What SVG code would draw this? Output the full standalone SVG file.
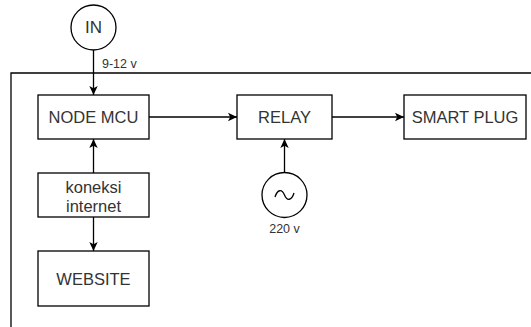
<svg xmlns="http://www.w3.org/2000/svg" width="531" height="327" viewBox="0 0 531 327">
<style>
.box{fill:#fff;stroke:#000;stroke-width:1.3}
.edge{fill:none;stroke:#000;stroke-width:1.3}
.lbl{font-family:"Liberation Sans",Arial,sans-serif;font-size:16.5px;fill:#333;text-anchor:middle;dominant-baseline:central}
.sm{font-family:"Liberation Sans",Arial,sans-serif;font-size:12.5px;fill:#333}
</style>
<defs>
<marker id="arr" markerWidth="10" markerHeight="10" refX="9" refY="5" orient="auto" markerUnits="userSpaceOnUse">
<path d="M0,0.8 L9,5 L0,9.2 L2.2,5 Z" fill="#000"/>
</marker>
</defs>
<rect width="531" height="327" fill="#fff"/>
<g id="frame">
<path class="edge" d="M11,327 V73 H531"/>
</g>
<g id="connectors">
<path class="edge" d="M93.5,50 V95" marker-end="url(#arr)"/>
<path class="edge" d="M149,117 H237" marker-end="url(#arr)"/>
<path class="edge" d="M332,117 H404" marker-end="url(#arr)"/>
<path class="edge" d="M284.5,173 V139" marker-end="url(#arr)"/>
<path class="edge" d="M93.5,173 V139" marker-end="url(#arr)"/>
<path class="edge" d="M93.5,217 V251" marker-end="url(#arr)"/>
<text class="sm" x="102" y="68">9-12 v</text>
</g>
<g id="in">
<circle class="box" cx="93.5" cy="27.5" r="22.5"/>
<text class="lbl" x="93.5" y="27.5" style="font-size:17px">IN</text>
</g>
<g id="nodemcu">
<rect class="box" x="38" y="95" width="111" height="44"/>
<text class="lbl" x="93.5" y="117">NODE MCU</text>
</g>
<g id="koneksi">
<rect class="box" x="38" y="173" width="111" height="44"/>
<text class="lbl" x="93.5" y="186.5">koneksi</text>
<text class="lbl" x="93.5" y="206">internet</text>
</g>
<g id="website">
<rect class="box" x="38" y="251" width="111" height="55"/>
<text class="lbl" x="93.5" y="278.5">WEBSITE</text>
</g>
<g id="relay">
<rect class="box" x="237" y="95" width="95" height="44"/>
<text class="lbl" x="284.5" y="117">RELAY</text>
</g>
<g id="smartplug">
<rect class="box" x="404" y="95" width="122" height="44"/>
<text class="lbl" x="465" y="117">SMART PLUG</text>
</g>
<g id="ac">
<circle class="box" cx="284.5" cy="195" r="22.5"/>
<path class="edge" d="M275,197 C277.5,189 282,189 284.5,195 C287,201 291.5,201 294,193"/>
<text class="sm" x="284.5" y="233" text-anchor="middle">220 v</text>
</g>
</svg>
